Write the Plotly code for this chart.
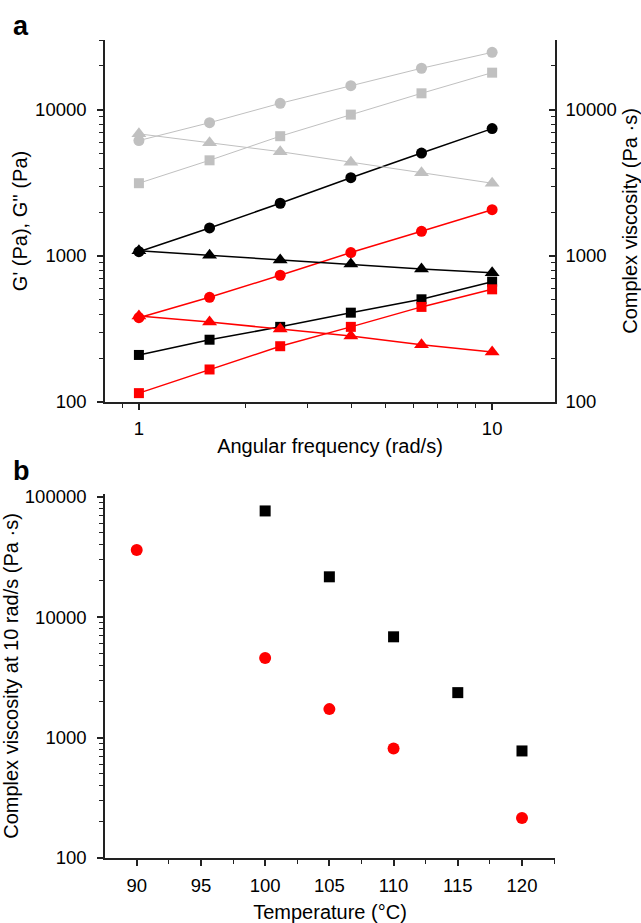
import plotly.graph_objects as go

# ---------------- data: panel a ----------------
freq = [1, 1.585, 2.512, 3.981, 6.310, 10]
gray_circle = [6170, 8180, 11100, 14650, 19300, 24800]
gray_square = [3150, 4520, 6610, 9290, 13000, 18000]
gray_triangle = [6860, 5970, 5180, 4390, 3720, 3150]
black_circle = [1070, 1556, 2296, 3436, 5070, 7450]
black_triangle = [1085, 1010, 940, 881, 815, 769]
black_square = [210, 267, 327, 409, 505, 667]
red_circle = [378, 521, 738, 1055, 1476, 2075]
red_triangle = [388, 353, 316, 283, 247, 220]
red_square = [115, 167, 241, 327, 448, 591]

# ---------------- data: panel b ----------------
temp_red = [90, 100, 105, 110, 120]
visc_red = [36100, 4580, 1722, 811, 215]
temp_black = [100, 105, 110, 115, 120]
visc_black = [76100, 21600, 6860, 2360, 774]

x_ticks_a = [1, 10]
y_ticks_a = [100, 1000, 10000]
x_ticks_b = [90, 95, 100, 105, 110, 115, 120]
y_ticks_b = [100, 1000, 10000, 100000]

W, H = 641, 923
GRAY = "#c0c0c0"
RED = "#ff0000"
BLACK = "#000000"
FONT = "Arial, Liberation Sans, sans-serif"
AX = "#222222"

# plot-area frame in pixels
L, R, T, B = 105, 555, 40, 858


def px(x):
    return (x - L) / (R - L)


def py(y):
    return (B - y) / (B - T)


def minor_log(lo, hi):
    vals = []
    e = lo
    while e <= hi:
        for k in range(2, 10):
            vals.append(k * 10 ** e)
        e += 1
    return vals


fig = go.Figure()


def add_series(x, y, color, symbol, size, lw, yaxis="y", xaxis="x", mode="lines+markers"):
    fig.add_trace(go.Scatter(
        x=x, y=y, mode=mode, xaxis=xaxis, yaxis=yaxis,
        line=dict(color=color, width=lw),
        marker=dict(color=color, symbol=symbol, size=size, line=dict(width=0)),
        showlegend=False, hoverinfo="skip"))


# gray
add_series(freq, gray_triangle, GRAY, "triangle-up", 13, 1, yaxis="y2")
add_series(freq, gray_square, GRAY, "square", 10, 1)
add_series(freq, gray_circle, GRAY, "circle", 11, 1)
# black
add_series(freq, black_triangle, BLACK, "triangle-up", 13, 1.5, yaxis="y2")
add_series(freq, black_square, BLACK, "square", 10, 1.5)
add_series(freq, black_circle, BLACK, "circle", 11, 1.5)
# red
add_series(freq, red_triangle, RED, "triangle-up", 13, 1.5, yaxis="y2")
add_series(freq, red_square, RED, "square", 10, 1.5)
add_series(freq, red_circle, RED, "circle", 11, 1.5)

# panel b
add_series(temp_black, visc_black, BLACK, "square", 11, 0, xaxis="x3", yaxis="y3", mode="markers")
add_series(temp_red, visc_red, RED, "circle", 12, 0, xaxis="x3", yaxis="y3", mode="markers")

tickfont = dict(family=FONT, size=18.5, color="black")
titlefont = dict(family=FONT, size=20, color="black")

common = dict(showline=True, linecolor=AX, linewidth=1.5, showgrid=False, zeroline=False,
              automargin=False, tickfont=tickfont, tickcolor=AX, tickwidth=1.5, ticklen=6)
mn = dict(ticklen=4, tickcolor=AX, tickwidth=1.2, showgrid=False)

dom_x = [0, 1]
dom_ya = [py(402), py(40)]
dom_yb = [py(858), py(494)]

fig.update_layout(
    width=W, height=H,
    margin=dict(l=L, r=W - R, t=T, b=H - B, autoexpand=False),
    paper_bgcolor="white", plot_bgcolor="white",
    xaxis=dict(common, type="log", domain=dom_x, anchor="y", range=[-0.096, 1.178],
               tickmode="array", tickvals=x_ticks_a, ticktext=["1", "10"], ticks="outside",
               ticklabelstandoff=3,
               minor=dict(mn, tickmode="array", tickvals=[0.8, 0.9] + minor_log(0, 0), ticks="outside"),
               title=dict(text="Angular frequency (rad/s)", font=titlefont, standoff=1)),
    yaxis=dict(common, type="log", domain=dom_ya, anchor="x", range=[2, 4.479],
               tickmode="array", tickvals=y_ticks_a, ticktext=["100", "1000", "10000"], ticks="outside",
               ticklabelstandoff=7,
               minor=dict(mn, tickmode="array", tickvals=minor_log(2, 4), ticks="outside"),
               title=dict(text="G' (Pa), G'' (Pa)", font=titlefont, standoff=2)),
    yaxis2=dict(common, type="log", overlaying="y", side="right", anchor="x", range=[2, 4.479],
                tickmode="array", tickvals=y_ticks_a, ticktext=["100", "1000", "10000"], ticks="inside",
                ticklabelstandoff=5,
                minor=dict(mn, tickmode="array", tickvals=minor_log(2, 4), ticks="inside"),
                title=dict(text="Complex viscosity (Pa ·s)", font=titlefont, standoff=8)),
    xaxis3=dict(common, domain=dom_x, anchor="y3", range=[87.53, 122.57],
                tickmode="array", tickvals=x_ticks_b, ticks="outside", ticklabelstandoff=4,
                minor=dict(mn, dtick=2.5, tick0=87.5, ticks="outside"),
                title=dict(text="Temperature (°C)", font=titlefont, standoff=12)),
    yaxis3=dict(common, type="log", domain=dom_yb, anchor="x3", range=[2, 5.022],
                tickmode="array", tickvals=y_ticks_b, ticklabelstandoff=7,
                ticktext=["100", "1000", "10000", "100000"], ticks="outside",
                minor=dict(mn, tickmode="array", tickvals=minor_log(2, 4), ticks="outside"),
                title=dict(text="Complex viscosity at 10 rad/s (Pa ·s)", font=titlefont, standoff=3)),
    annotations=[
        dict(text="<b>a</b>", x=px(11), y=py(9), xref="paper", yref="paper",
             xanchor="left", yanchor="top", showarrow=False,
             font=dict(family=FONT, size=27, color="black")),
        dict(text="<b>b</b>", x=px(11), y=py(454), xref="paper", yref="paper",
             xanchor="left", yanchor="top", showarrow=False,
             font=dict(family=FONT, size=27, color="black")),
    ],
)

fig.write_html("out.html")
